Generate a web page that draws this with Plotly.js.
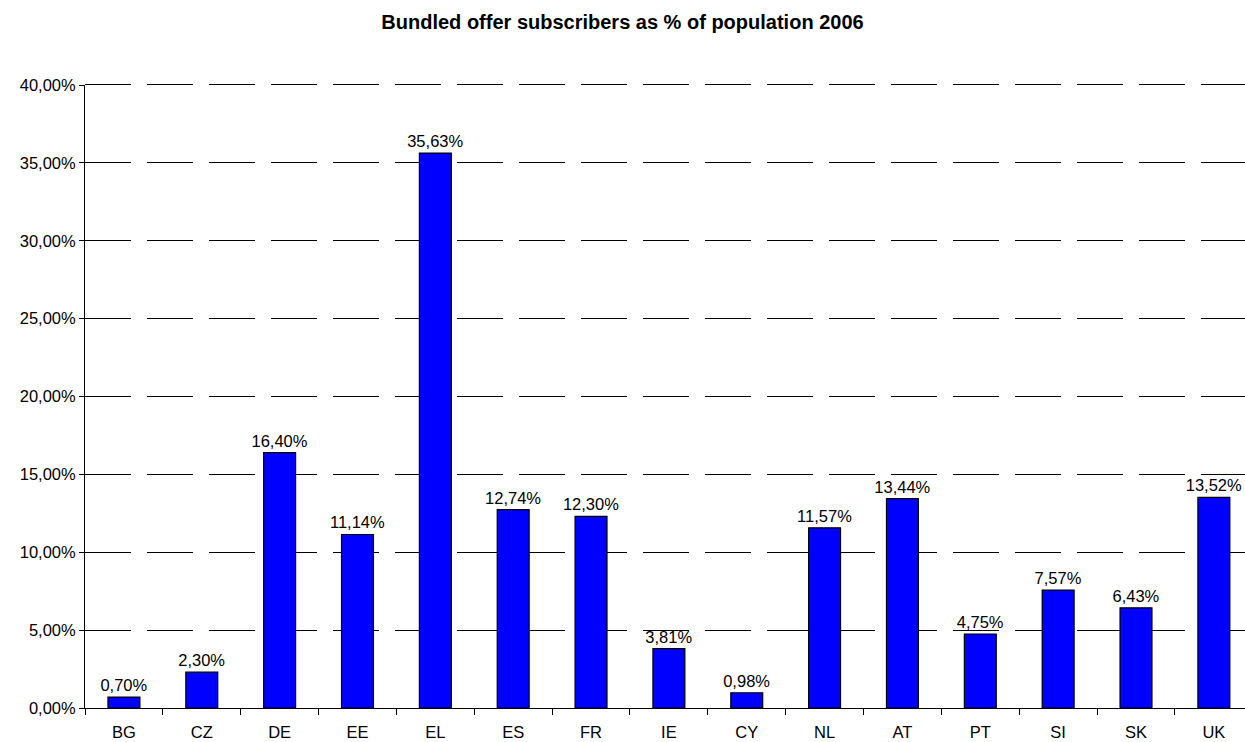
<!DOCTYPE html>
<html>
<head>
<meta charset="utf-8">
<script src="https://cdn.plot.ly/plotly-3.0.1.min.js"></script>
<style>html,body{margin:0;padding:0;background:#fff;}#chart{width:1245px;height:742px;}</style>
</head>
<body>
<div id="chart"></div>
<script>
const categories = ["BG","CZ","DE","EE","EL","ES","FR","IE","CY","NL","AT","PT","SI","SK","UK"];
const values = [0.70, 2.30, 16.40, 11.14, 35.63, 12.74, 12.30, 3.81, 0.98, 11.57, 13.44, 4.75, 7.57, 6.43, 13.52];
const yTickVals = [0, 5, 10, 15, 20, 25, 30, 35, 40];
const yTickText = ["0,00%", "5,00%", "10,00%", "15,00%", "20,00%", "25,00%", "30,00%", "35,00%", "40,00%"];
const labels = values.map(v => v.toFixed(2).replace('.', ',') + '%');

const trace = {
  type: 'bar',
  x: categories,
  y: values,
  text: labels,
  textposition: 'outside',
  constraintext: 'none',
  textfont: {family: 'Liberation Sans, Arial, sans-serif', size: 16.5, color: '#000'},
  outsidetextfont: {family: 'Liberation Sans, Arial, sans-serif', size: 16.5, color: '#000'},
  cliponaxis: false,
  width: 0.41,
  marker: {color: '#0000FF', line: {color: '#000', width: 1.2}},
  hoverinfo: 'none'
};

const layout = {
  width: 1245, height: 742,
  margin: {l: 85, r: 0, t: 85, b: 34},
  paper_bgcolor: '#fff', plot_bgcolor: '#fff',
  showlegend: false,
  font: {family: 'Liberation Sans, Arial, sans-serif', size: 16.5, color: '#000'},
  title: {text: '<b>Bundled offer subscribers as % of population 2006</b>', x: 0.5, xanchor: 'center', y: 0.971, yanchor: 'middle', font: {size: 20, color: '#000'}},
  xaxis: {
    type: 'category',
    range: [-0.5, 14.4],
    showline: true, linecolor: '#000', linewidth: 1,
    ticks: 'outside', tickson: 'boundaries', ticklen: 6, tickcolor: '#000',
    ticklabelstandoff: 9,
    showgrid: false, zeroline: false,
    tickfont: {size: 16.5}
  },
  yaxis: {
    range: [0, 40],
    tickmode: 'array',
    tickvals: yTickVals,
    ticktext: yTickText,
    showline: true, linecolor: '#000', linewidth: 1,
    ticks: 'outside', ticklen: 5, tickcolor: '#000',
    showgrid: true, gridcolor: '#000', gridwidth: 1, griddash: '46px,16px',
    zeroline: false,
    tickfont: {size: 16.5}
  },
  shapes: [{
    type: 'line', xref: 'paper', x0: 0, x1: 1, yref: 'paper', y0: 1 + 0.5 / 623, y1: 1 + 0.5 / 623,
    line: {color: '#000', width: 1, dash: '46px,16px'}, layer: 'below'
  }]
};

Plotly.newPlot('chart', [trace], layout, {staticPlot: true});
</script>
</body>
</html>
